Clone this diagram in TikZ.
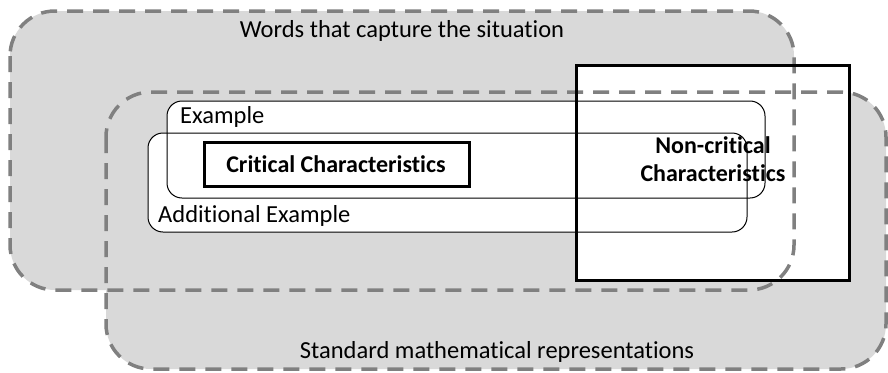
\documentclass[tikz,border=0pt]{standalone}
\usepackage{fontspec}
\setmainfont{Carlito}[Ligatures=NoCommon]
\definecolor{boxgray}{HTML}{D9D9D9}
\definecolor{dashgray}{HTML}{808080}
\begin{document}
\begin{tikzpicture}[x=1pt,y=-1pt,
  region/.style={fill=boxgray},
  regionline/.style={draw=dashgray,line width=3.5pt,dash pattern=on 16pt off 10pt},
  examplebox/.style={draw=black,line width=1pt,rounded corners=15pt},
  critbox/.style={draw=black,fill=white,line width=3pt},
  label/.style={font=\fontsize{24.5}{28}\selectfont,inner sep=0pt},
  boldlabel/.style={font=\fontsize{24}{27.5}\selectfont\bfseries,inner sep=0pt,align=center}]
\useasboundingbox (0,0) rectangle (888,372);
% gray regions
\fill[region,rounded corners=45pt] (10,11) rectangle (794,290);
\fill[region,rounded corners=45pt] (106,92) rectangle (886,369);
% white fills
\fill[white] (576,65) rectangle (849,280);
\fill[white,rounded corners=15pt] (167,101) rectangle (765,198);
\fill[white,rounded corners=15pt] (148,133) rectangle (747,232);
% dashed outlines
\draw[regionline,rounded corners=45pt] (10,11) rectangle (794,290);
\draw[regionline,rounded corners=45pt] (106,92) rectangle (886,369);
% example boxes
\draw[examplebox] (167,101) rectangle (765,198);
\draw[examplebox] (148,133) rectangle (747,232);
% critical box
\draw[critbox] (204,142) rectangle (469,186);
% non-critical box
\draw[black,line width=3pt] (576,65) rectangle (849,280);
% texts
\node[label] (words) at (402,31) {Words that capture the situation};
\node[label] (stdrep) at (497,352) {Standard mathematical representations};
\node[label,anchor=west] (ex) at (180,117) {Example};
\node[label,anchor=west] (addex) at (158,216) {Additional Example};
\node[boldlabel] (crit) at (336,164) {Critical Characteristics};
\node[boldlabel] (noncrit) at (713,159) {Non-critical\\Characteristics};
\end{tikzpicture}
\end{document}
